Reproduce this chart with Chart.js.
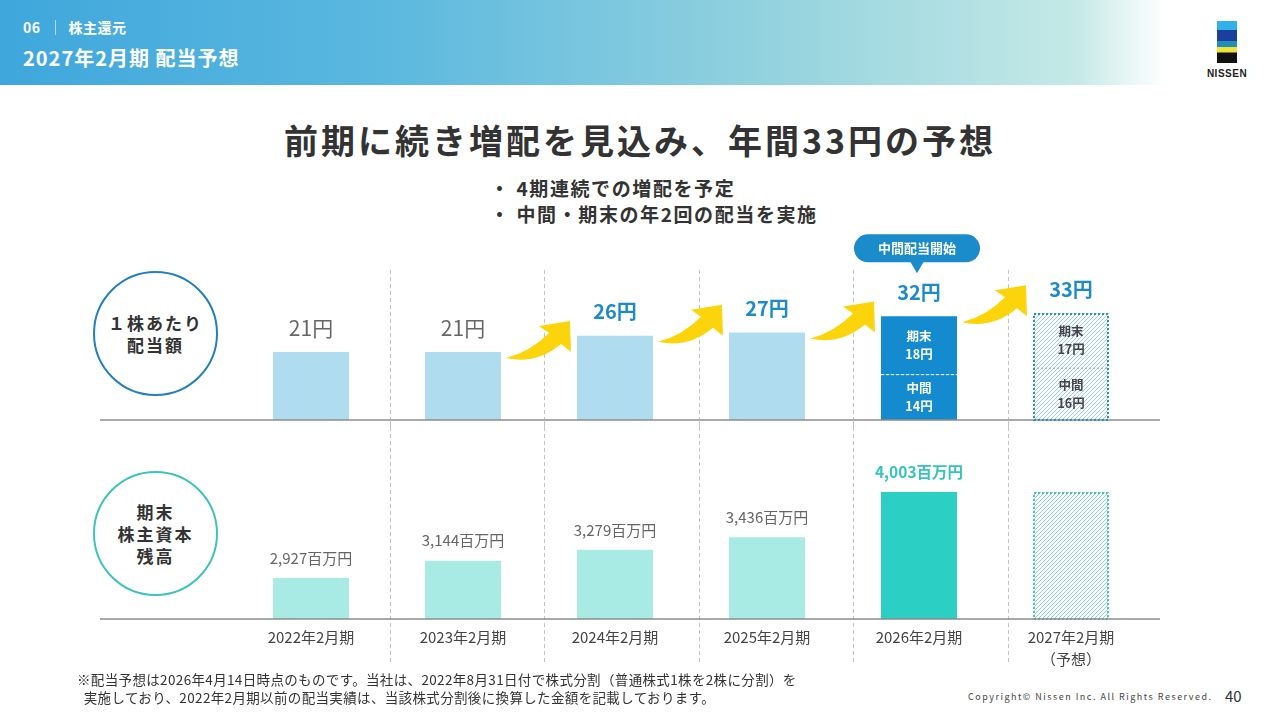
<!DOCTYPE html>
<html lang="ja">
<head>
<meta charset="UTF-8">
<title>2027年2月期 配当予想</title>
<script src="https://cdn.jsdelivr.net/npm/chart.js@4/dist/chart.umd.min.js"></script>
<style>
  body { margin:0; width:1280px; height:720px; overflow:hidden; background:#fff;
         font-family:'Noto Sans CJK JP','Noto Sans',sans-serif; color:#333; position:relative; }
  .abs { position:absolute; }
  #hdr { left:0; top:0; width:1280px; height:85px;
         background:linear-gradient(90deg,#3fa7dc 0%,#5bb8df 30%,#93d2de 60%,#c4e9e6 84%,#ffffff 91%); }
  #sec { left:23px; top:17px; color:#fff; font-weight:bold; font-size:14px; letter-spacing:.5px; }
  #sec span { display:inline-block; width:1px; height:15px; background:rgba(255,255,255,.6); margin:0 13px 0 14px; vertical-align:-2px; }
  #pg  { left:23px; top:43px; color:#fff; font-weight:bold; font-size:20px; letter-spacing:1px; }
  #logo { left:1217px; top:21px; width:20px; height:42px;
          background:linear-gradient(180deg,#31b1ea 0,#31b1ea 9px,#1c3f9e 9px,#1c3f9e 20px,#2190b8 20px,#2190b8 26px,#f2e23a 26px,#f2e23a 31px,#111 32px,#111 42px); }
  #logotxt { left:1200px; top:68px; width:54px; text-align:center; font:bold 10px 'Liberation Sans',sans-serif; color:#222; letter-spacing:.5px; }
  #title { left:0; top:115px; width:1280px; text-align:center; font-size:34px; font-weight:bold; letter-spacing:3px; color:#333; }
  #bul { left:490px; top:175px; font-size:19px; font-weight:bold; line-height:26px; letter-spacing:1.6px; color:#333; }
  .circ { left:93px; width:121px; height:121px; border-radius:50%; border:2px solid; display:flex;
          align-items:center; justify-content:center; text-align:center; font-weight:bold; font-size:17px;
          line-height:22px; letter-spacing:2px; color:#333; }
  #note { left:77px; top:670px; font-size:13.5px; line-height:18px; letter-spacing:.35px; color:#333; }
  #copy { left:968px; top:690px; font-size:9px; letter-spacing:1.5px; color:#444; }
  #num  { left:1225px; top:685px; font-size:15px; color:#333; }
  canvas { position:absolute; left:0; }
</style>
</head>
<body>
<div id="hdr" class="abs"></div>
<div id="sec" class="abs">06<span></span>株主還元</div>
<div id="pg" class="abs">2027年2月期 配当予想</div>
<div id="logo" class="abs"></div>
<div id="logotxt" class="abs">NISSEN</div>

<div id="title" class="abs">前期に続き増配を見込み、年間33円の予想</div>
<div id="bul" class="abs">・ 4期連続での増配を予定<br>・ 中間・期末の年2回の配当を実施</div>

<div class="abs circ" style="top:271px;border-color:#2380bd;">１株あたり<br>配当額</div>
<div class="abs circ" style="top:471px;border-color:#3cc3bd;">期末<br>株主資本<br>残高</div>

<canvas id="dps" width="1280" height="210" style="top:220px;width:1280px;height:210px;"></canvas>
<canvas id="eq" width="1280" height="260" style="top:420px;width:1280px;height:260px;"></canvas>

<div id="note" class="abs">※配当予想は2026年4月14日時点のものです。当社は、2022年8月31日付で株式分割（普通株式1株を2株に分割）を<br>&nbsp;&nbsp;実施しており、2022年2月期以前の配当実績は、当該株式分割後に換算した金額を記載しております。</div>
<div id="copy" class="abs">Copyright© Nissen Inc. All Rights Reserved.</div>
<div id="num" class="abs">40</div>

<script>
// データ
var years = ['2022年2月期', '2023年2月期', '2024年2月期', '2025年2月期', '2026年2月期', ['2027年2月期', '（予想）']];
var dpsTotal   = [21, 21, 26, 27, 32, 33];            // 1株あたり配当（年間）
var dpsAnnual  = [21, 21, 26, 27, null, null];        // 年1回配当の年
var dpsInterim = [null, null, null, null, 14, 16];    // 中間
var dpsYearEnd = [null, null, null, null, 18, 17];    // 期末
var equity     = [2927, 3144, 3279, 3436, 4003, 4003];// 期末株主資本残高（百万円）
var equityLabels = ['2,927百万円', '3,144百万円', '3,279百万円', '3,436百万円', '4,003百万円', ''];
var calloutIndex = 4;
var calloutText = '中間配当開始';
var forecastIndex = 5;

Chart.defaults.font.family = "'Noto Sans CJK JP', 'Noto Sans', sans-serif";

// 予想の棒：斜線
function hatchRect(ctx, x0, y0, x1, y1, color) {
    ctx.save();
    ctx.beginPath();
    ctx.rect(x0, y0, x1 - x0, y1 - y0);
    ctx.clip();
    ctx.strokeStyle = color;
    ctx.lineWidth = 1;
    ctx.beginPath();
    var h = y1 - y0;
    for (var d = -h; d < x1 - x0 + 4; d += 4) {
        ctx.moveTo(x0 + d, y1);
        ctx.lineTo(x0 + d + h, y0);
    }
    ctx.stroke();
    ctx.restore();
}

function drawSeparators(chart, y0, y1) {
    var ctx = chart.ctx, xs = chart.scales.x;
    ctx.save();
    ctx.strokeStyle = '#c4c4c4';
    ctx.lineWidth = 1;
    ctx.setLineDash([4, 3]);
    for (var i = 0; i < years.length - 1; i++) {
        var x = Math.round((xs.getPixelForValue(i) + xs.getPixelForValue(i + 1)) / 2 + 2.5 + i * 2.5) + 0.5;
        ctx.beginPath(); ctx.moveTo(x, y0); ctx.lineTo(x, y1); ctx.stroke();
    }
    ctx.restore();
}

function drawBaseline(chart, y) {
    var ctx = chart.ctx;
    ctx.save();
    ctx.strokeStyle = '#8c8c8c';
    ctx.lineWidth = 1.5;
    ctx.beginPath(); ctx.moveTo(100, y); ctx.lineTo(1160, y); ctx.stroke();
    ctx.restore();
}

function drawArrow(ctx, x, y) {
    ctx.save();
    ctx.translate(x, y);
    ctx.fillStyle = '#fcd40c';
    ctx.beginPath();
    ctx.moveTo(0, 0);
    ctx.quadraticCurveTo(24, -6, 43, -25);
    ctx.lineTo(33, -32);
    ctx.lineTo(64, -37);
    ctx.lineTo(65, -6);
    ctx.lineTo(55, -14);
    ctx.quadraticCurveTo(30, 7, 0, 0);
    ctx.closePath();
    ctx.fill();
    ctx.restore();
}

function dottedRect(ctx, x0, y0, x1, y1, color) {
    ctx.save();
    ctx.strokeStyle = color;
    ctx.lineWidth = 2;
    ctx.setLineDash([2, 2]);
    ctx.strokeRect(x0 + 1, y0 + 1, x1 - x0 - 2, y1 - y0 - 1);
    ctx.restore();
}

// 1株あたり配当
var dpsPlugin = {
    id: 'dpsDeco',
    beforeDatasetsDraw: function (chart) {
        drawSeparators(chart, chart.chartArea.top, chart.chartArea.bottom + 10);
    },
    afterDatasetsDraw: function (chart) {
        var ctx = chart.ctx, ys = chart.scales.y, xs = chart.scales.x;
        var mInt = chart.getDatasetMeta(1), mEnd = chart.getDatasetMeta(2);
        drawBaseline(chart, ys.getPixelForValue(0));

        // 矢印
        for (var i = 1; i < dpsTotal.length - 1; i++) {
            var top = ys.getPixelForValue(dpsTotal[i]);
            var half = (xs.getPixelForValue(1) - xs.getPixelForValue(0)) / 4;
            drawArrow(ctx, xs.getPixelForValue(i) + half + 5, top + 6);
        }

        // 合計ラベル
        ctx.save();
        ctx.textAlign = 'center';
        ctx.textBaseline = 'middle';
        for (var i = 0; i < dpsTotal.length; i++) {
            var y = ys.getPixelForValue(dpsTotal[i]) - 24;
            if (i < 2) {
                ctx.font = "21px 'Noto Sans CJK JP'";
                ctx.fillStyle = '#666';
            } else {
                ctx.font = "bold 20px 'Noto Sans CJK JP'";
                ctx.fillStyle = '#1e8bc9';
            }
            ctx.fillText(dpsTotal[i] + '円', xs.getPixelForValue(i), y);
        }
        ctx.restore();

        // 中間・期末の内訳
        for (var i = 0; i < dpsTotal.length; i++) {
            if (dpsInterim[i] === null) continue;
            var a = mInt.data[i], b = mEnd.data[i];
            var x0 = a.x - a.width / 2, x1 = a.x + a.width / 2;
            var fc = i === forecastIndex ? '#444' : '#fff';
            if (i === forecastIndex) hatchRect(ctx, x0, b.y, x1, a.base, '#93cbe8');
            ctx.save();
            ctx.strokeStyle = i === forecastIndex ? '#8a9ea8' : '#ffffff';
            ctx.lineWidth = 1;
            ctx.setLineDash(i === forecastIndex ? [2, 2] : [3, 2]);
            ctx.beginPath(); ctx.moveTo(x0, a.y); ctx.lineTo(x1, a.y); ctx.stroke();
            ctx.restore();
            if (i === forecastIndex) dottedRect(ctx, x0, b.y, x1, a.base, '#2a8fc4');

            ctx.save();
            ctx.fillStyle = fc;
            ctx.font = "bold 12.5px 'Noto Sans CJK JP'";
            ctx.textAlign = 'center';
            ctx.textBaseline = 'middle';
            var cy = (b.y + b.base) / 2;
            ctx.fillText('期末', b.x, cy - 9);
            ctx.fillText(dpsYearEnd[i] + '円', b.x, cy + 9);
            cy = (a.y + a.base) / 2;
            ctx.fillText('中間', a.x, cy - 9);
            ctx.fillText(dpsInterim[i] + '円', a.x, cy + 9);
            ctx.restore();
        }

        // 吹き出し
        var cx = xs.getPixelForValue(calloutIndex) - 2;
        var by = ys.getPixelForValue(dpsTotal[calloutIndex]) - 82;
        ctx.save();
        ctx.fillStyle = '#1b8ccb';
        ctx.beginPath();
        ctx.roundRect(cx - 63, by, 126, 28, 14);
        ctx.fill();
        ctx.beginPath();
        ctx.moveTo(cx - 7, by + 27); ctx.lineTo(cx + 7, by + 27); ctx.lineTo(cx, by + 39);
        ctx.closePath(); ctx.fill();
        ctx.fillStyle = '#fff';
        ctx.font = "bold 13px 'Noto Sans CJK JP'";
        ctx.textAlign = 'center';
        ctx.textBaseline = 'middle';
        ctx.fillText(calloutText, cx, by + 14);
        ctx.restore();
    }
};

new Chart(document.getElementById('dps'), {
    type: 'bar',
    data: {
        labels: years,
        datasets: [
            { label: '年間', data: dpsAnnual, backgroundColor: '#b0dcf0' },
            { label: '中間', data: dpsInterim, backgroundColor: ['#fff', '#fff', '#fff', '#fff', '#158bcf', '#fff'] },
            { label: '期末', data: dpsYearEnd, backgroundColor: ['#fff', '#fff', '#fff', '#fff', '#158bcf', '#fff'] }
        ]
    },
    options: {
        responsive: false,
        animation: false,
        barPercentage: 0.5,
        categoryPercentage: 1.0,
        layout: { padding: { left: 235, right: 133, top: 50, bottom: 10 } },
        plugins: { legend: { display: false }, tooltip: { enabled: false } },
        scales: {
            x: { display: false, stacked: true },
            y: { display: false, stacked: true, min: 0, max: 46.3 }
        }
    },
    plugins: [dpsPlugin]
});

// 期末株主資本残高
var eqPlugin = {
    id: 'eqDeco',
    beforeDatasetsDraw: function (chart) {
        drawSeparators(chart, 0, 245);
    },
    afterDatasetsDraw: function (chart) {
        var ctx = chart.ctx;
        var meta = chart.getDatasetMeta(0);
        var bottom = chart.chartArea.bottom;
        var f = meta.data[forecastIndex];
        hatchRect(ctx, f.x - f.width / 2, f.y, f.x + f.width / 2, bottom, '#86d8d2');
        dottedRect(ctx, f.x - f.width / 2, f.y, f.x + f.width / 2, bottom, '#46c9c1');
        drawBaseline(chart, bottom);
        ctx.save();
        ctx.textAlign = 'center';
        ctx.textBaseline = 'middle';
        for (var i = 0; i < equity.length; i++) {
            var el = meta.data[i];
            if (i === calloutIndex) {
                ctx.font = "bold 15.5px 'Noto Sans CJK JP'";
                ctx.fillStyle = '#34c4bb';
            } else {
                ctx.font = "15px 'Noto Sans CJK JP'";
                ctx.fillStyle = '#666';
            }
            ctx.fillText(equityLabels[i], el.x, el.y - 20);
        }
        ctx.restore();
    }
};

new Chart(document.getElementById('eq'), {
    type: 'bar',
    data: {
        labels: years,
        datasets: [
            { label: '期末株主資本残高', data: equity,
              backgroundColor: ['#a8eae4', '#a8eae4', '#a8eae4', '#a8eae4', '#2bcfc3', '#fff'] }
        ]
    },
    options: {
        responsive: false,
        animation: false,
        barPercentage: 0.5,
        categoryPercentage: 1.0,
        layout: { padding: { left: 235, right: 133, top: 0, bottom: 0 } },
        plugins: { legend: { display: false }, tooltip: { enabled: false } },
        scales: {
            x: {
                grid: { display: false, drawTicks: false },
                border: { display: false },
                ticks: { color: '#444', padding: 7, maxRotation: 0, autoSkip: false,
                         font: { size: 15, lineHeight: 1.5 } },
                afterFit: function (s) { s.height = 61; }
            },
            y: { display: false, min: 2414, max: 4904 }
        }
    },
    plugins: [eqPlugin]
});
</script>
</body>
</html>
